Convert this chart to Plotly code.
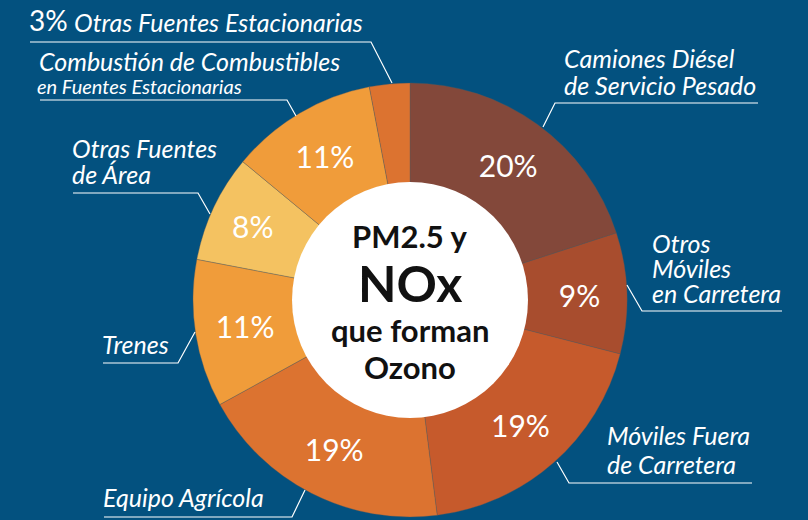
import plotly.graph_objects as go

# ---- data ----
categories = [
    "Camiones Diésel de Servicio Pesado",
    "Otros Móviles en Carretera",
    "Móviles Fuera de Carretera",
    "Equipo Agrícola",
    "Trenes",
    "Otras Fuentes de Área",
    "Combustión de Combustibles en Fuentes Estacionarias",
    "Otras Fuentes Estacionarias",
]
values = [20, 9, 19, 19, 11, 8, 11, 3]
colors = ["#83483a", "#a84d2e", "#c65a2c", "#dc7330",
          "#f09c3a", "#f4c261", "#f09c3a", "#dc7330"]
center_lines = ["PM2.5 y", "NOx", "que forman", "Ozono"]

W, H = 808, 520
BG = "#03517f"
CX, CY, R, RIN = 410, 300, 217, 117


def px(x):
    return x / W


def py(y):
    return 1 - y / H


pct_text = [f"{v}%" if v >= 5 else "" for v in values]

fig = go.Figure(go.Pie(
    labels=categories,
    values=values,
    sort=False,
    direction="clockwise",
    rotation=0,
    hole=RIN / R,
    marker=dict(colors=colors, line=dict(color="rgba(90,90,90,0.6)", width=0.6)),
    text=pct_text,
    textinfo="text",
    textposition="inside",
    insidetextorientation="horizontal",
    textfont=dict(family="Lato", size=30, color="white"),
    hoverinfo="label+percent",
    showlegend=False,
    domain=dict(x=[px(CX - R), px(CX + R)], y=[py(CY + R), py(CY - R)]),
))

shapes = [dict(type="circle", xref="paper", yref="paper",
               x0=px(CX - RIN - 1), x1=px(CX + RIN + 1),
               y0=py(CY + RIN + 1), y1=py(CY - RIN - 1),
               fillcolor="white", line=dict(width=0))]

# leader lines: underline + diagonal to slice
leaders = [
    [(30, 42), (371, 42), (392, 83)],
    [(40, 100), (287, 100), (296, 116)],
    [(73, 193), (198, 193), (210, 214)],
    [(103, 363), (178, 363), (195, 332)],
    [(104, 517), (292, 517), (305, 490)],
    [(758, 103), (555, 103), (543, 127)],
    [(782, 311), (642, 311), (627, 285)],
    [(752, 483), (569, 483), (557, 462)],
]
for pts in leaders:
    path = "M " + " L ".join(f"{px(x)},{py(y)}" for x, y in pts)
    shapes.append(dict(type="path", xref="paper", yref="paper", path=path,
                       line=dict(color="white", width=1.2)))

ann = []


def label(x, y, txt, size=25, italic=True, bold=False, color="white", anchor="left"):
    t = txt
    if bold:
        t = f"<b>{t}</b>"
    if italic:
        t = f"<i>{t}</i>"
    ann.append(dict(x=px(x), y=py(y), xref="paper", yref="paper", text=t,
                    showarrow=False, xanchor=anchor, yanchor="middle",
                    font=dict(family="Lato", size=size, color=color)))


label(27, 20, "3%", size=28, italic=False)
label(72, 22, "Otras Fuentes Estacionarias", size=25)
label(37, 61, "Combustión de Combustibles", size=25)
label(35, 86, "en Fuentes Estacionarias", size=20)
label(70, 148, "Otras Fuentes", size=25)
label(70, 174, "de Área", size=25)
label(100, 344, "Trenes", size=25)
label(101, 497, "Equipo Agrícola", size=25)
label(562, 58, "Camiones Diésel", size=25)
label(562, 85, "de Servicio Pesado", size=25)
label(650, 243, "Otros", size=25)
label(650, 268, "Móviles", size=25)
label(650, 293, "en Carretera", size=25)
label(605, 435, "Móviles Fuera", size=25)
label(605, 464, "de Carretera", size=25)

# center text
label(CX, 236, center_lines[0], size=31, italic=False, bold=True, color="#111111", anchor="center")
label(CX, 283, center_lines[1], size=50, italic=False, bold=True, color="#111111", anchor="center")
label(CX, 330, center_lines[2], size=31, italic=False, bold=True, color="#111111", anchor="center")
label(CX, 367, center_lines[3], size=31, italic=False, bold=True, color="#111111", anchor="center")

fig.update_layout(
    width=W, height=H,
    margin=dict(l=0, r=0, t=0, b=0),
    paper_bgcolor=BG, plot_bgcolor=BG,
    shapes=shapes, annotations=ann,
)

fig.write_html(
    "out.html",
    config={"displayModeBar": False},
    post_script="document.body.style.margin='0';document.body.style.background='" + BG + "';",
)
